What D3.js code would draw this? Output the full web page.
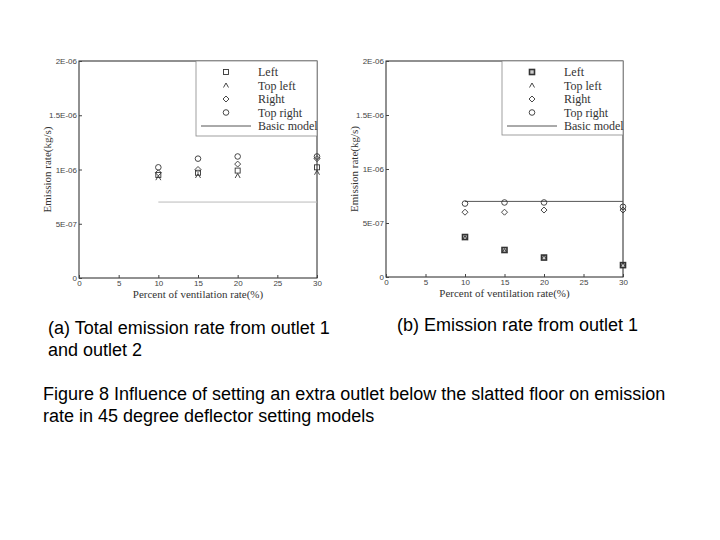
<!DOCTYPE html><html><head><meta charset="utf-8"><script src="https://cdn.jsdelivr.net/npm/d3@7"></script>
<style>body{margin:0;background:#fff}</style></head><body><svg id="c" width="720" height="540"></svg><script>
const xs=[10,15,20,30];
const xTicks=[0,5,10,15,20,25,30];
const yTicks=[0,5e-7,1e-6,1.5e-6,2e-6];
const yTickLabels=["0","5E-07","1E-06","1.5E-06","2E-06"];
const aLeft=[0.95e-6,0.97e-6,0.99e-6,1.02e-6];
const aTopLeft=[0.92e-6,0.94e-6,0.94e-6,0.97e-6];
const aRight=[0.97e-6,1.0e-6,1.05e-6,1.1e-6];
const aTopRight=[1.02e-6,1.1e-6,1.12e-6,1.12e-6];
const aBasic=7e-7;
const bLeft=[0.37e-6,0.25e-6,0.18e-6,0.11e-6];
const bTopLeft=[0.36e-6,0.24e-6,0.18e-6,0.11e-6];
const bRight=[0.6e-6,0.6e-6,0.62e-6,0.62e-6];
const bTopRight=[0.68e-6,0.69e-6,0.69e-6,0.65e-6];
const bBasic=7e-7;
const legendNames=["Left","Top left","Right","Top right","Basic model"];
const svg=d3.select("#c");
function sym(g,type,x,y,fill){
  const st="#333",w=fill?1.6:0.9;
  if(type===0) g.append("rect").attr("x",x-2.5).attr("y",y-2.5).attr("width",5).attr("height",5).attr("fill",fill?"#ccc":"none").attr("stroke",st).attr("stroke-width",w);
  else if(type===1) g.append("path").attr("d",`M${x-2.5},${y+2}L${x},${y-2.5}L${x+2.5},${y+2}`).attr("fill","none").attr("stroke",st).attr("stroke-width",0.9);
  else if(type===2) g.append("path").attr("d",`M${x},${y-3}L${x+3},${y}L${x},${y+3}L${x-3},${y}Z`).attr("fill","none").attr("stroke",st).attr("stroke-width",0.9);
  else g.append("circle").attr("cx",x).attr("cy",y).attr("r",2.8).attr("fill","none").attr("stroke",st).attr("stroke-width",0.9);
}
function panel(x0,x1,y0,y1,series,basic,legX,legB,fillLeft){
  const g=svg.append("g");
  const x=d3.scaleLinear().domain([0,30]).range([x0,x1]);
  const y=d3.scaleLinear().domain([0,2e-6]).range([y1,y0]);
  g.append("rect").attr("x",x0).attr("y",y0).attr("width",x1-x0).attr("height",y1-y0).attr("fill","none").attr("stroke","#222").attr("stroke-width",1);
  const ax=g.append("g").attr("transform",`translate(0,${y1})`).call(d3.axisBottom(x).tickValues(xTicks).tickSize(-3).tickPadding(2));
  const ay=g.append("g").attr("transform",`translate(${x0},0)`).call(d3.axisLeft(y).tickValues(yTicks).tickFormat((d,i)=>yTickLabels[i]).tickSize(-3).tickPadding(2));
  [ax,ay].forEach(a=>{a.select(".domain").remove();a.selectAll("text").attr("font-family","Liberation Sans").attr("font-size",8).attr("fill","#444");a.selectAll("line").attr("stroke","#444");});
  g.append("line").attr("x1",x(10)).attr("x2",x(30)).attr("y1",y(basic)).attr("y2",y(basic)).attr("stroke",fillLeft?"#555":"#bbb").attr("stroke-width",1);
  series.forEach((s,k)=>s.forEach((v,i)=>sym(g,k,x(xs[i]),y(v),k===0&&fillLeft)));
  g.append("text").attr("x",(x0+x1)/2).attr("y",y1+20).attr("text-anchor","middle").attr("font-family","Liberation Serif").attr("font-size",11).attr("fill","#333").text("Percent of ventilation rate(%)");
  g.append("text").attr("transform",`translate(${x0-28},${(y0+y1)/2}) rotate(-90)`).attr("text-anchor","middle").attr("font-family","Liberation Serif").attr("font-size",11).attr("fill","#333").text("Emission rate(kg/s)");
  g.append("rect").attr("x",legX).attr("y",y0).attr("width",x1-legX).attr("height",legB-y0).attr("fill","#fff").attr("stroke","#888").attr("stroke-width",0.8);
  legendNames.forEach((n,i)=>{
    const ly=y0+15+i*13.5;
    if(i<4) sym(g,i,legX+30,ly-4,i===0&&fillLeft);
    else g.append("line").attr("x1",legX+5).attr("x2",legX+55).attr("y1",ly-4).attr("y2",ly-4).attr("stroke","#555");
    g.append("text").attr("x",legX+62).attr("y",ly).attr("font-family","Liberation Serif").attr("font-size",12).attr("fill","#333").text(n);
  });
}
panel(79,317,61,278,[aLeft,aTopLeft,aRight,aTopRight],aBasic,196,136,false);
panel(386,623,61,277,[bLeft,bTopLeft,bRight,bTopRight],bBasic,502,135,true);
const t=(x,y,s)=>svg.append("text").attr("x",x).attr("y",y).attr("font-family","Liberation Sans").attr("font-size",18).attr("fill","#000").text(s);
t(48,334,"(a) Total emission rate from outlet 1");
t(48,356,"and outlet 2");
t(397,331,"(b) Emission rate from outlet 1");
t(43,400,"Figure 8 Influence of setting an extra outlet below the slatted floor on emission");
t(43,422,"rate in 45 degree deflector setting models");
</script></body></html>
